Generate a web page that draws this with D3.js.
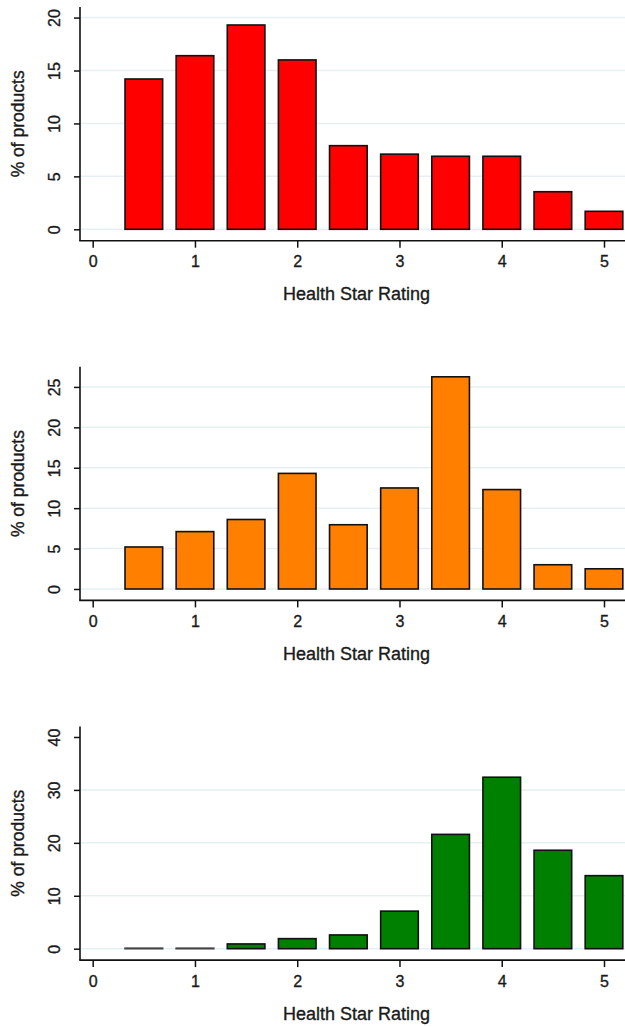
<!DOCTYPE html>
<html>
<head>
<meta charset="utf-8">
<script src="https://cdn.jsdelivr.net/npm/d3@7"></script>
<style>
    body { margin: 0; background: #fff; }
    svg { display: block; font-family: "Liberation Sans", Arial, sans-serif; }
    .lbl { fill: #1a1a1a; stroke: #1a1a1a; stroke-width: 0.35px; }
</style>
</head>
<body>
<div id="chart"></div>
<script>
// Health star rating bins (bar centres).
let ratings = [0.5, 1, 1.5, 2, 2.5, 3, 3.5, 4, 4.5, 5];
let xTicks = [0, 1, 2, 3, 4, 5];

// % of products in each bin, one array per panel.
let redValues = [14.2, 16.4, 19.3, 16.0, 7.9, 7.1, 6.9, 6.9, 3.55, 1.7];
let orangeValues = [5.2, 7.1, 8.6, 14.3, 7.95, 12.5, 26.25, 12.3, 3.0, 2.5];
let greenValues = [0.1, 0.1, 0.9, 1.9, 2.6, 7.1, 21.6, 32.4, 18.6, 13.8];

// y tick labels for each panel.
let redTicks = [0, 5, 10, 15, 20];
let orangeTicks = [0, 5, 10, 15, 20, 25];
let greenTicks = [0, 10, 20, 30, 40];
let greenGrid = [0, 10, 20, 30];

let panels = [
    { values: redValues, ticks: redTicks, grid: redTicks, yMax: 21, color: "#ff0000" },
    { values: orangeValues, ticks: orangeTicks, grid: orangeTicks, yMax: 27.5, color: "#ff8000" },
    { values: greenValues, ticks: greenTicks, grid: greenGrid, yMax: 42, color: "#008000" }
];

let width = 625;
let height = 1027;
let panelStep = 359.7;

// Plot box inside one panel.
let plotLeft = 80;
let plotTop = 7;
let axisY = 240.7;
let zeroY = 229.3;

let svg = d3.select("#chart")
    .append("svg")
    .attr("width", width)
    .attr("height", height);

let x = d3.scaleLinear().domain([0, 5]).range([92.7, 604]);
let barWidth = (x(1) - x(0)) * 0.368;

panels.forEach(function(p, i) {
    let g = svg.append("g")
        .attr("transform", "translate(0," + (i * panelStep) + ")");

    let y = d3.scaleLinear().domain([0, p.yMax]).range([zeroY, plotTop]);

    // Light grid lines.
    g.selectAll(".grid")
        .data(p.grid)
        .enter()
        .append("line")
        .attr("x1", plotLeft + 1)
        .attr("x2", width)
        .attr("y1", d => y(d))
        .attr("y2", d => y(d))
        .attr("stroke", "#e6eff2")
        .attr("stroke-width", 1.5);

    // Bars.
    g.selectAll(".bar")
        .data(p.values)
        .enter()
        .append("rect")
        .attr("x", (d, j) => x(ratings[j]) - barWidth / 2)
        .attr("y", d => y(d))
        .attr("width", barWidth)
        .attr("height", d => y(0) - y(d))
        .attr("fill", p.color)
        .attr("stroke", d => d < 0.5 ? "#444" : "#111")
        .attr("stroke-width", 1.6);

    // Y axis with rotated tick labels.
    let yAxis = g.append("g")
        .attr("transform", "translate(" + plotLeft + ",0)")
        .call(d3.axisLeft(y).tickValues(p.ticks).tickSize(6).tickFormat(d3.format("d")));
    yAxis.select(".domain").remove();
    yAxis.selectAll(".tick line").attr("stroke", "#111").attr("stroke-width", 1.5);
    yAxis.selectAll(".tick text")
        .attr("class", "lbl")
        .attr("transform", "rotate(-90)")
        .attr("x", 0)
        .attr("y", -20)
        .attr("dy", 0)
        .attr("text-anchor", "middle")
        .style("font-size", "16px");

    // X axis.
    let xAxis = g.append("g")
        .attr("transform", "translate(0," + axisY + ")")
        .call(d3.axisBottom(x).tickValues(xTicks).tickSize(7).tickFormat(d3.format("d")));
    xAxis.select(".domain").remove();
    xAxis.selectAll(".tick line").attr("stroke", "#111").attr("stroke-width", 1.5);
    xAxis.selectAll(".tick text")
        .attr("class", "lbl")
        .attr("y", 26.5)
        .attr("dy", 0)
        .style("font-size", "16px");

    // Axis lines.
    g.append("line")
        .attr("x1", plotLeft).attr("x2", plotLeft)
        .attr("y1", plotTop).attr("y2", axisY)
        .attr("stroke", "#111").attr("stroke-width", 1.6);
    g.append("line")
        .attr("x1", plotLeft - 0.8).attr("x2", width)
        .attr("y1", axisY).attr("y2", axisY)
        .attr("stroke", "#111").attr("stroke-width", 1.6);

    // Axis titles.
    g.append("text")
        .attr("class", "lbl")
        .attr("x", 356.5)
        .attr("y", axisY + 59.5)
        .attr("text-anchor", "middle")
        .style("font-size", "18px")
        .text("Health Star Rating");

    g.append("text")
        .attr("class", "lbl")
        .attr("transform", "translate(24," + ((plotTop + axisY) / 2) + ") rotate(-90)")
        .attr("text-anchor", "middle")
        .style("font-size", "17.5px")
        .text("% of products");
});
</script>
</body>
</html>
